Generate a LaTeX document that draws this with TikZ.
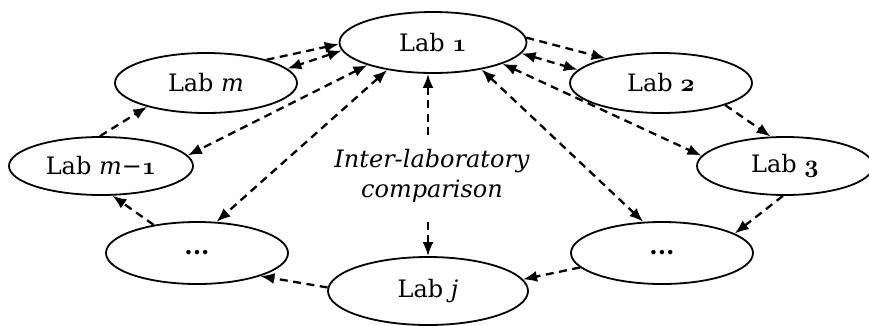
\documentclass[tikz,border=0pt]{standalone}
\usepackage{fontspec}
\setmainfont{DejaVu Serif}
\usetikzlibrary{shapes.geometric,arrows.meta}
% old-style digits taken from the bold math italic font
\newcommand\osn[1]{{\usefont{OML}{cmm}{b}{it}#1}}
\begin{document}
\begin{tikzpicture}[x=1pt,y=-1pt,
  lab/.style={draw, ellipse, line width=1.8pt, fill=white, inner sep=0pt,
    font=\fontsize{24}{29}\selectfont},
  tip/.tip={Latex[length=14pt,width=11pt]},
  link/.style={line width=2.3pt, dash pattern=on 8pt off 5.5pt, -tip},
  hub/.style={link, tip-tip}]
\useasboundingbox (0,0) rectangle (869,325);

% laboratories
\node[lab, minimum width=187pt, minimum height=61pt] (L1)  at (433,42.5) {Lab \osn{1}};
\node[lab, minimum width=182pt, minimum height=60pt] (Lm)  at (206,83)   {Lab \textit{m}};
\node[lab, minimum width=182pt, minimum height=60pt] (L2)  at (661,83)   {Lab \osn{2}};
\node[lab, minimum width=184pt, minimum height=58pt] (Lm1) at (101,166)  {Lab \textit{m}−\osn{1}};
\node[lab, minimum width=176pt, minimum height=58pt] (L3)  at (785,166)  {Lab \osn{3}};
\node[lab, minimum width=182pt, minimum height=62pt] (Dl)  at (197,253)  {\textbf{...}};
\node[lab, minimum width=182pt, minimum height=62pt] (Dr)  at (662,253)  {\textbf{...}};
\node[lab, minimum width=200pt, minimum height=68pt] (Lj)  at (428,291)  {Lab \textit{j}};

% ring of comparisons
\draw[link] (Lm.21.5) -- (L1.181);
\draw[link] (L1.3)    -- (L2.156);
\draw[link] (L2.341)  -- (L3.116);
\draw[link] (L3.266)  -- (Dr.15);
\draw[link] (Dr.190)  -- (Lj.7);
\draw[link] (Lj.178)  -- (Dl.340);
\draw[link] (Dl.147)  -- (Lm1.291);
\draw[link] (Lm1.92)  -- (Lm.202);

% exchanges with Lab 1
\draw[hub] (L1.185) -- (Lm.10);
\draw[hub] (L1.199) -- (Lm1.7);
\draw[hub] (L1.211) -- (Dl.58);
\draw[hub] (Lj.north |- L1.south) -- (Lj.north);
\draw[hub] (L1.331) -- (Dr.121);
\draw[hub] (L1.343) -- (L3.173);
\draw[hub] (L1.353) -- (L2.171);

% caption in the middle, over the vertical link
\node[font=\itshape\fontsize{24}{30}\selectfont, align=center, fill=white,
  inner xsep=3pt, inner ysep=13pt] (cmp) at (432,176) {Inter-laboratory\\comparison};
\end{tikzpicture}
\end{document}
